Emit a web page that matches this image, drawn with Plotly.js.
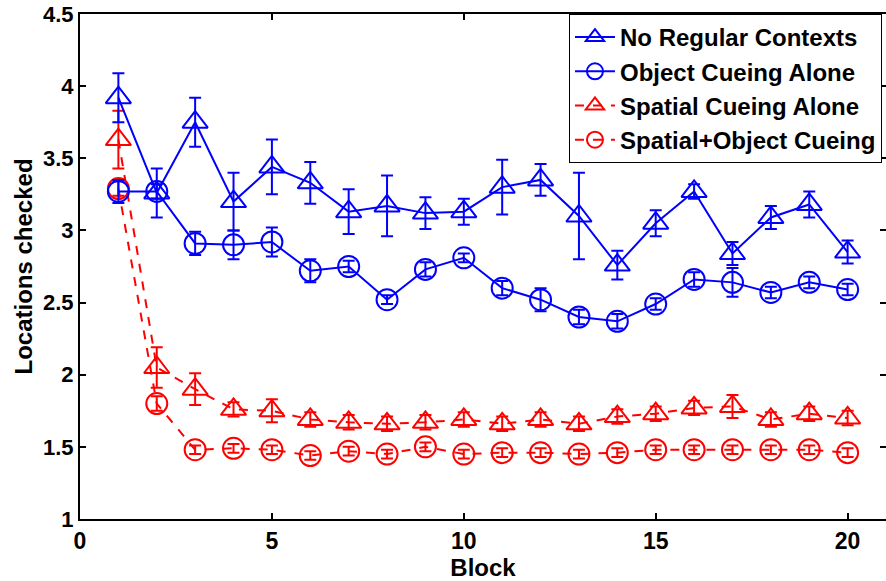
<!DOCTYPE html>
<html>
<head>
<meta charset="utf-8">
<script src="https://cdn.plot.ly/plotly-3.0.1.min.js"></script>
<style>html,body{margin:0;padding:0;background:#fff;}#chart{width:886px;height:581px;}</style>
</head>
<body>
<div id="chart"></div>
<script>
const blocks = [1,2,3,4,5,6,7,8,9,10,11,12,13,14,15,16,17,18,19,20];
const seriesNames = ["No Regular Contexts","Object Cueing Alone","Spatial Cueing Alone","Spatial+Object Cueing"];

const noRegular     = [3.92,3.26,3.75,3.20,3.44,3.33,3.13,3.17,3.12,3.13,3.30,3.35,3.10,2.76,3.05,3.27,2.84,3.09,3.18,2.85];
const noRegularErr  = [0.17,0.17,0.17,0.20,0.19,0.145,0.155,0.21,0.11,0.09,0.19,0.11,0.30,0.10,0.09,0.05,0.08,0.08,0.09,0.08];

const objectAlone    = [3.27,3.27,2.91,2.90,2.92,2.72,2.75,2.52,2.73,2.81,2.60,2.52,2.40,2.37,2.49,2.66,2.64,2.57,2.64,2.59];
const objectAloneErr = [0.08,0.05,0.08,0.10,0.10,0.08,0.04,0.03,0.05,0.03,0.05,0.08,0.05,0.05,0.04,0.05,0.10,0.04,0.04,0.04];

const spatialAlone    = [3.63,2.05,1.90,1.76,1.75,1.69,1.67,1.66,1.67,1.69,1.66,1.69,1.66,1.71,1.73,1.77,1.78,1.69,1.73,1.70];
const spatialAloneErr = [0.20,0.14,0.11,0.05,0.08,0.05,0.05,0.05,0.05,0.05,0.05,0.05,0.05,0.05,0.05,0.05,0.08,0.05,0.05,0.05];

const spatialObject    = [3.29,1.80,1.48,1.49,1.48,1.44,1.47,1.45,1.50,1.45,1.46,1.46,1.45,1.46,1.48,1.48,1.48,1.48,1.48,1.46];
const spatialObjectErr = [0.05,0.05,0.03,0.03,0.03,0.03,0.03,0.03,0.03,0.03,0.03,0.03,0.03,0.03,0.03,0.03,0.03,0.03,0.03,0.03];

const xTicks = [0,5,10,15,20];
const yTicks = [1,1.5,2,2.5,3,3.5,4,4.5];
const yTickText = ["1","1.5","2","2.5","3","3.5","4","4.5"];

const BLUE = "#0000ff", RED = "#ff0000";
const FONT = "Liberation Sans, Arial, Helvetica, sans-serif";

function tr(name, y, err, color, symbol, dash, rank) {
  return {
    type: "scatter", mode: "lines+markers", name: name, x: blocks, y: y,
    legendrank: rank, legendgroup: "g" + rank,
    line: {color: color, width: 2, dash: dash},
    marker: {symbol: symbol, size: symbol.indexOf("triangle") === 0 ? 22 : 21, color: color, line: {color: color, width: 2}},
    error_y: {type: "data", array: err, visible: true, color: color, thickness: 2, width: 6}
  };
}

const data = [
  tr(seriesNames[3], spatialObject, spatialObjectErr, RED, "circle-open", "dash", 4),
  tr(seriesNames[2], spatialAlone, spatialAloneErr, RED, "triangle-up-open", "dash", 3),
  tr(seriesNames[0], noRegular, noRegularErr, BLUE, "triangle-up-open", "solid", 1),
  tr(seriesNames[1], objectAlone, objectAloneErr, BLUE, "circle-open", "solid", 2)
];

const layout = {
  width: 886, height: 581,
  margin: {l: 80, r: 0, t: 14, b: 62},
  paper_bgcolor: "#fff", plot_bgcolor: "#fff",
  font: {family: FONT, color: "#000", size: 22, weight: "bold"},
  showlegend: true,
  legend: {
    x: 0.995, xanchor: "right", y: 1.0, yanchor: "top",
    bgcolor: "#fff", bordercolor: "#000", borderwidth: 1,
    font: {family: FONT, size: 24, color: "#000", weight: "bold"},
    traceorder: "grouped", tracegroupgap: 0, itemwidth: 40
  },
  xaxis: {
    range: [0, 21], tickvals: xTicks, ticktext: xTicks.map(String),
    ticks: "inside", ticklen: 6, tickwidth: 2, tickcolor: "#000",
    showline: true, linewidth: 2, linecolor: "#000", mirror: "ticks",
    showgrid: false, zeroline: false, ticklabeloverflow: "allow",
    tickfont: {family: FONT, size: 23, color: "#000", weight: "bold"},
    title: {text: "Block", font: {family: FONT, size: 24, color: "#000", weight: "bold"}, standoff: 2}
  },
  yaxis: {
    range: [1, 4.5], tickvals: yTicks, ticktext: yTickText,
    ticks: "inside", ticklen: 6, tickwidth: 2, tickcolor: "#000",
    showline: true, linewidth: 2, linecolor: "#000", mirror: "ticks",
    showgrid: false, zeroline: false, ticklabeloverflow: "allow",
    tickfont: {family: FONT, size: 22, color: "#000", weight: "bold"},
    title: {text: "Locations checked", font: {family: FONT, size: 24, color: "#000", weight: "bold"}, standoff: 4}
  }
};

Plotly.newPlot("chart", data, layout, {displayModeBar: false, staticPlot: true});
</script>
</body>
</html>
